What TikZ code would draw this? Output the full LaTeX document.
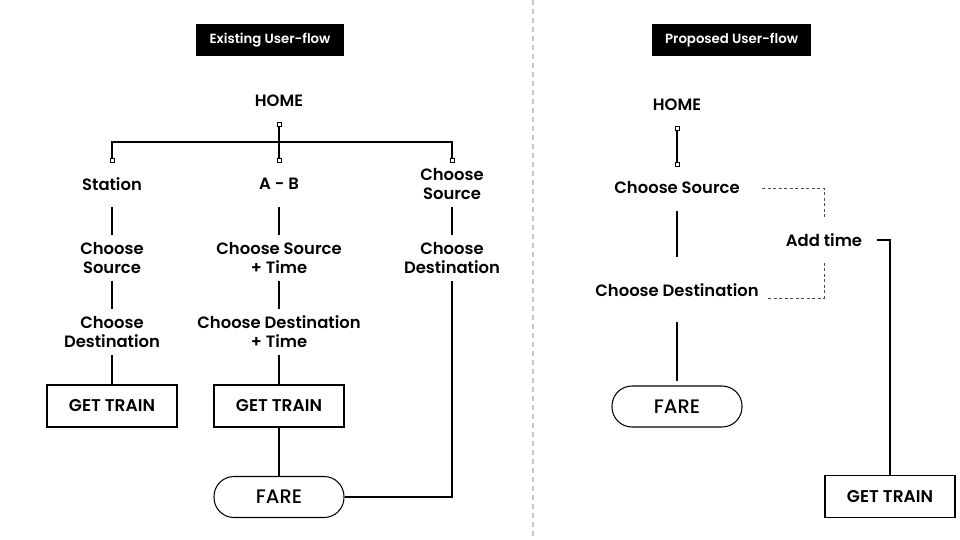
\documentclass[tikz,border=0pt]{standalone}
\usepackage{fontspec}
\setmainfont{Poppins}[BoldFont={* SemiBold}]
\newfontfamily\farefont{Poppins}[UprightFont={* Medium}]
\usetikzlibrary{calc}
\begin{document}
\begin{tikzpicture}[x=1pt,y=-1pt,line width=1.05pt]
\tikzset{
  lbl/.style={font=\fontsize{16.4}{19}\selectfont\bfseries, align=center, inner sep=0pt, minimum height=44pt},
  hdr/.style={fill=black, text=white, font=\fontsize{13.3}{15}\selectfont\bfseries, minimum height=32pt, inner sep=0pt},
  tbox/.style={draw, line width=1.05pt, minimum width=130pt, minimum height=42pt, inner sep=0pt, font=\fontsize{17}{19}\selectfont\bfseries},
  pill/.style={draw, line width=1.05pt, rounded corners=20pt, minimum width=130pt, minimum height=41pt, inner sep=0pt, font=\fontsize{19.5}{21}\selectfont\farefont},
  sq/.style={draw, fill=white, line width=0.8pt, minimum size=4pt, inner sep=0pt},
  dsh/.style={draw, line width=0.8pt, color=black!70, dash pattern=on 3pt off 2.5pt},
  sep/.style={draw, line width=1.6pt, color=black!22, dash pattern=on 5pt off 4pt}
}
\useasboundingbox (0,0) rectangle (960,540);
\fill[white] (0,0) rectangle (960,540);

% separator
\coordinate (septop) at (533,0);
\coordinate (sepbot) at (533,540);
\draw[sep] (septop) -- (sepbot);

% headers
\node[hdr, minimum width=148pt] (h1) at (270,40) {Existing User-flow};
\node[hdr, minimum width=159pt] (h2) at (731.5,40.5) {Proposed User-flow};

% ---------------- Existing ----------------
\node[lbl] (home) at (279,101) {HOME};
\node[sq] (sq0) at (279,124) {};
\coordinate (busL) at (112,142);
\coordinate (busM) at (279,142);
\coordinate (busR) at (452,142);
\node[sq] (sq1) at (112,160) {};
\node[sq] (sq2) at (279,160) {};
\node[sq] (sq3) at (452,160) {};
\draw (sq1) -- (busL) -- (busR) -- (sq3);
\draw (sq0) -- (sq2);

\node[lbl] (st) at (112,184) {Station};
\node[lbl] (ab) at (279,184) {A - B};
\node[lbl] (cs3) at (452,184) {Choose\\Source};

\node[lbl] (cs1) at (112,258) {Choose\\Source};
\node[lbl] (cs2) at (279,258) {Choose Source\\+ Time};
\node[lbl] (cd3) at (452,258) {Choose\\Destination};

\node[lbl] (cd1) at (112,332) {Choose\\Destination};
\node[lbl] (cd2) at (279,332) {Choose Destination\\+ Time};

\node[tbox] (gt1) at (112,406) {GET TRAIN};
\node[tbox] (gt2) at (279,406) {GET TRAIN};
\node[pill] (fare1) at (279,497) {FARE};

\draw (st.south) -- (cs1.north);
\draw (cs1.south) -- (cd1.north);
\draw (cd1.south) -- (gt1.north);
\draw (ab.south) -- (cs2.north);
\draw (cs2.south) -- (cd2.north);
\draw (cd2.south) -- (gt2.north);
\draw (gt2.south) -- (fare1.north);
\draw (cs3.south) -- (cd3.north);
\draw (fare1.east) -| (cd3.south);

% ---------------- Proposed ----------------
\node[lbl] (home2) at (677,105) {HOME};
\node[sq] (sq4) at (677,128) {};
\node[sq] (sq5) at (677,164) {};
\draw (sq4) -- (sq5);

\node[lbl] (rcs) at (677,188) {Choose Source};
\node[lbl] (rcd) at (677,290) {Choose Destination};
\node[pill] (fare2) at (677,406.5) {FARE};
\node[lbl] (at) at (824,240) {Add time};
\node[tbox] (gt3) at (890,496.5) {GET TRAIN};

\draw[shorten >=10pt] (rcs.south) -- (rcd.north);
\draw[shorten <=9pt, shorten >=4pt] (rcd.south) -- (fare2.north);

\coordinate (d1) at (762,188);
\coordinate (d2) at (768,298);
\draw[dsh] (d1) -| (at.north);
\draw[dsh] (at.south) |- (d2);

\coordinate (s1) at (877,240);
\draw (s1) -| (gt3.north);
\end{tikzpicture}
\end{document}
